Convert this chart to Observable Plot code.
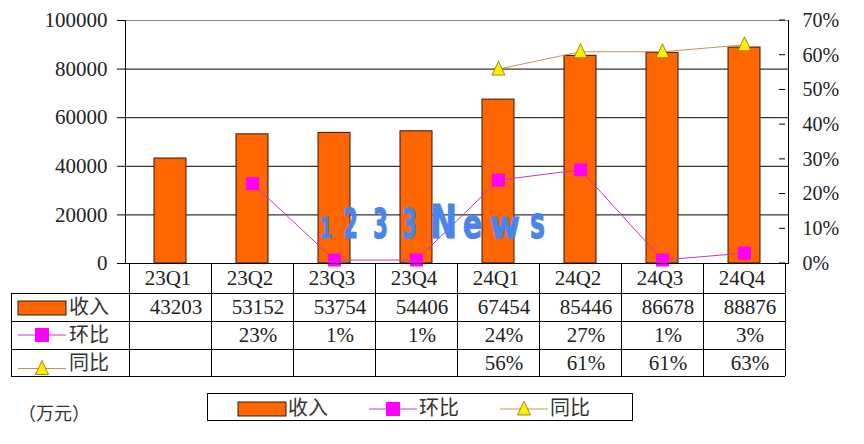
<!DOCTYPE html>
<html>
<head>
<meta charset="utf-8">
<script src="https://cdn.jsdelivr.net/npm/d3@7"></script>
<script src="https://cdn.jsdelivr.net/npm/@observablehq/plot@0.6"></script>
<style>
  html, body { margin: 0; padding: 0; background: #fff; }
  #chart { width: 864px; height: 444px; }
</style>
</head>
<body>
<div id="chart"></div>
<script>
// ---- data ----
const categories = ["23Q1", "23Q2", "23Q3", "23Q4", "24Q1", "24Q2", "24Q3", "24Q4"];
const revenue = [43203, 53152, 53754, 54406, 67454, 85446, 86678, 88876];
const qoq = [null, 23, 1, 1, 24, 27, 1, 3];          // 环比 (%)
const yoy = [null, null, null, null, 56, 61, 61, 63]; // 同比 (%)
const leftTicks = [0, 20000, 40000, 60000, 80000, 100000];
const rightTicks = [0, 10, 20, 30, 40, 50, 60, 70];
const seriesNames = ["收入", "环比", "同比"];
const unitLabel = "（万元）";
const watermark = "1233News";

// ---- styles ----
const ORANGE = "#ff6600", MAGENTA = "#ff00ff", QLINE = "#c636c6", YLINE = "#c8944c", YELLOW = "#ffee00", TRI_STROKE = "#8a7010";
const SERIF = "'Liberation Serif', 'DejaVu Serif', serif";
const CJK = "'Noto Sans CJK SC', sans-serif";

const yMax = 100000, pMax = 70, k = yMax / pMax;
const rows = categories.map((c, i) => ({c, rev: revenue[i], qoq: qoq[i], yoy: yoy[i]}));

// tall triangle symbol (13 wide, 14 high)
const triSymbol = {
  draw(ctx) {
    ctx.moveTo(0, -8);
    ctx.lineTo(6.5, 6);
    ctx.lineTo(-6.5, 6);
    ctx.closePath();
  }
};

const chart = Plot.plot({
  width: 864, height: 444,
  marginTop: 20, marginBottom: 181, marginLeft: 125, marginRight: 76,
  style: {fontFamily: SERIF, fontSize: "21px", background: "#fff", color: "#000", overflow: "visible"},
  x: {domain: categories, padding: 0, axis: null},
  y: {domain: [0, yMax], axis: null},
  marks: [
    Plot.ruleY([20000, 40000, 60000, 80000], {stroke: "#000", strokeWidth: 1}),
    Plot.ruleY([yMax], {stroke: "#888", strokeWidth: 1}),
    Plot.barY(rows, {x: "c", y: "rev", fill: ORANGE, stroke: "#2a1a10", strokeWidth: 1, insetLeft: 25, insetRight: 25}),
    Plot.ruleY([0], {stroke: "#000"}),
    Plot.frame({anchor: "left", stroke: "#000"}),
    Plot.frame({anchor: "right", stroke: "#000"}),
    Plot.axisY(leftTicks, {anchor: "left", label: null, tickSize: 8, tickPadding: 10, fontSize: 21, stroke: "#000", fill: "#222", tickFormat: d => String(d)}),
    Plot.axisY(rightTicks.map(d => d * k), {anchor: "right", label: null, tickSize: 0, tickPadding: 14, fontSize: 20, fill: "#222", tickFormat: d => Math.round(d / k) + "%"}),
    Plot.line(rows.filter(d => d.qoq != null), {x: "c", y: d => d.qoq * k, stroke: QLINE, strokeWidth: 1}),
    Plot.line(rows.filter(d => d.yoy != null), {x: "c", y: d => d.yoy * k, stroke: YLINE, strokeWidth: 1}),
    Plot.dot(rows.filter(d => d.qoq != null), {x: "c", y: d => d.qoq * k, symbol: "square", r: 7.3, fill: MAGENTA, stroke: "none"}),
    Plot.dot(rows.filter(d => d.yoy != null), {x: "c", y: d => d.yoy * k, symbol: triSymbol, r: 7, fill: YELLOW, stroke: TRI_STROKE, strokeWidth: 0.8})
  ]
});
document.getElementById("chart").appendChild(chart);

// ---- table & legend drawn with scales ----
const svg = d3.select(chart);
const xs = chart.scale("x"), ys = chart.scale("y");
const bw = xs.bandwidth;
const x0 = xs.apply(categories[0]);
const xEnd = xs.apply(categories[categories.length - 1]) + bw;
const yBase = ys.apply(0);
const rowH = [30, 28, 28, 27];
const rowY = [yBase];
rowH.forEach(h => rowY.push(rowY[rowY.length - 1] + h));
const tableLeft = 11;

// right-axis inward ticks
const g = svg.append("g");
rightTicks.forEach(t => {
  const yy = ys.apply(t * k);
  g.append("line").attr("x1", xEnd - 6).attr("x2", xEnd).attr("y1", yy).attr("y2", yy).attr("stroke", "#000");
});

const tg = svg.append("g").attr("stroke", "#000").attr("stroke-width", 1).attr("shape-rendering", "crispEdges");
tg.append("line").attr("x1", x0).attr("x2", xEnd).attr("y1", rowY[0]).attr("y2", rowY[0]);
for (let r = 1; r < rowY.length; r++) {
  tg.append("line").attr("x1", tableLeft).attr("x2", xEnd).attr("y1", rowY[r]).attr("y2", rowY[r]);
}
tg.append("line").attr("x1", tableLeft).attr("x2", tableLeft).attr("y1", rowY[1]).attr("y2", rowY[4]);
categories.forEach(c => {
  const xx = xs.apply(c);
  tg.append("line").attr("x1", xx).attr("x2", xx).attr("y1", rowY[0]).attr("y2", rowY[4]);
});
tg.append("line").attr("x1", xEnd).attr("x2", xEnd).attr("y1", rowY[0]).attr("y2", rowY[4]);

const txt = svg.append("g").attr("font-family", SERIF).attr("font-size", 21).attr("fill", "#222").attr("text-anchor", "middle");
const mid = r => (rowY[r] + rowY[r + 1]) / 2;
categories.forEach((c, i) => {
  const cx = xs.apply(c) + bw / 2;
  txt.append("text").attr("x", cx - 2).attr("y", mid(0)).attr("dy", "0.35em").text(c);
  txt.append("text").attr("x", cx + 6).attr("y", mid(1)).attr("dy", "0.35em").text(revenue[i]);
  if (qoq[i] != null) txt.append("text").attr("x", cx + 6).attr("y", mid(2)).attr("dy", "0.35em").text(qoq[i] + "%");
  if (yoy[i] != null) txt.append("text").attr("x", cx + 6).attr("y", mid(3)).attr("dy", "0.35em").text(yoy[i] + "%");
});

function keyBar(sel, x, y) {
  sel.append("rect").attr("x", x).attr("y", y - 7).attr("width", 48).attr("height", 14).attr("fill", ORANGE).attr("stroke", "#2a1a10").attr("stroke-width", 1);
}
function keyQoq(sel, x, y) {
  sel.append("line").attr("x1", x).attr("x2", x + 48).attr("y1", y).attr("y2", y).attr("stroke", QLINE).attr("stroke-width", 1);
  sel.append("rect").attr("x", x + 17).attr("y", y - 7).attr("width", 14).attr("height", 14).attr("fill", MAGENTA);
}
function keyYoy(sel, x, y) {
  sel.append("line").attr("x1", x).attr("x2", x + 48).attr("y1", y).attr("y2", y).attr("stroke", YLINE).attr("stroke-width", 1);
  sel.append("path").attr("d", `M${x + 24},${y - 8}L${x + 30.5},${y + 6}L${x + 17.5},${y + 6}Z`).attr("fill", YELLOW).attr("stroke", TRI_STROKE).attr("stroke-width", 0.8);
}
const keys = [keyBar, keyQoq, keyYoy];

const rl = svg.append("g").attr("text-anchor", "start");
seriesNames.forEach((name, i) => {
  const yy = mid(i + 1);
  keys[i](rl, 18, i === 0 ? yy + 1 : (i === 2 ? yy + 6 : yy));
  rl.append("text").attr("x", 69).attr("y", yy).attr("dy", "0.36em").attr("font-family", CJK).attr("font-size", 20).attr("fill", "#333").text(name);
});

svg.append("text").attr("text-anchor", "start").attr("x", 18).attr("y", 414).attr("dy", "0.35em").attr("font-family", CJK).attr("font-size", 18).attr("fill", "#333").text(unitLabel);

const lg = svg.append("g").attr("text-anchor", "start");
lg.append("rect").attr("x", 207.5).attr("y", 393.5).attr("width", 425).attr("height", 27).attr("fill", "none").attr("stroke", "#000");
const legX = [238, 369, 500];
seriesNames.forEach((name, i) => {
  keys[i](lg, legX[i], 409);
  lg.append("text").attr("x", legX[i] + 50).attr("y", 408).attr("dy", "0.36em").attr("font-family", CJK).attr("font-size", 20).attr("fill", "#333").text(name);
});

// watermark (one text, per-glyph tspans)
const wm = svg.append("text").attr("text-anchor", "start").attr("y", 238).attr("font-family", "'DejaVu Sans', sans-serif").attr("font-weight", "bold")
  .attr("fill", "#4a84ea").attr("stroke", "#4a84ea").attr("stroke-width", 1.2).attr("stroke-linejoin", "round");
const wmSpec = [
  [320, 12, 28], [343, 15, 41], [373, 15, 41], [402, 15, 41],
  [430, 27, 46], [463, 19, 40], [490, 30, 38], [530, 15, 44]
];
watermark.split("").forEach((ch, i) => {
  const [x, w, fs] = wmSpec[i];
  wm.append("tspan").attr("x", x).attr("font-size", fs)
    .attr("textLength", w).attr("lengthAdjust", "spacingAndGlyphs").text(ch);
});
</script>
</body>
</html>
